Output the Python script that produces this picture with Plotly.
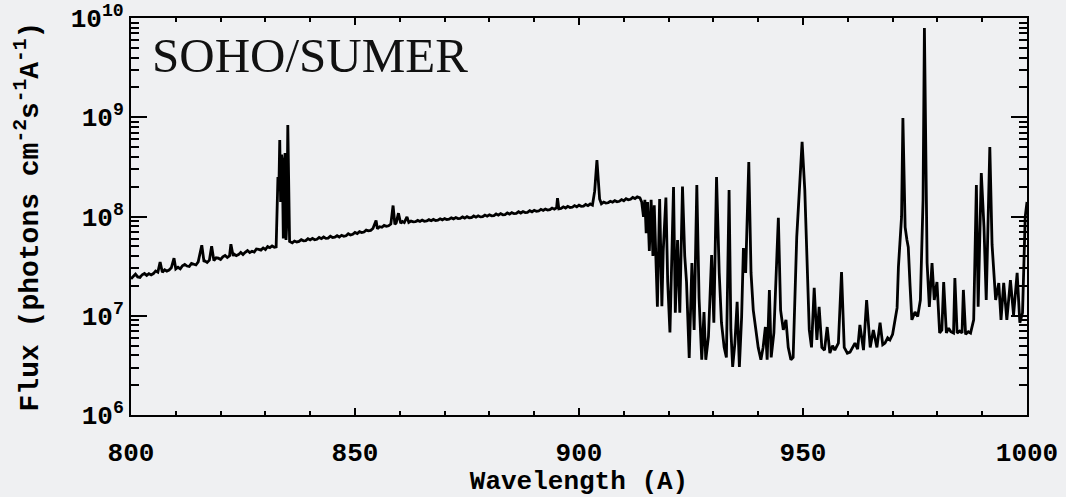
import plotly.graph_objects as go

# SUMER quiet-Sun spectrum, 800-1000 A
wavelength = [
    800, 800.5, 801, 801.5, 802, 802.5, 803, 803.5, 804, 804.5, 805, 805.5, 806, 806.5,
    807, 807.5, 808, 808.5, 809, 809.6, 810, 810.5, 811, 811.5, 812, 812.5, 813, 813.5,
    814, 814.5, 815, 815.8, 816.3, 816.5, 817, 817.5, 818, 818.5, 819, 819.5, 820, 820.5,
    821, 821.5, 822, 822.3, 822.8, 823, 823.5, 824, 824.5, 825, 825.5, 826, 826.5, 827,
    827.5, 828, 828.5, 829, 829.5, 830, 830.5, 831, 831.5, 832, 832.4,
    832.6, 832.8, 833.0, 833.2, 833.4, 833.6, 833.8, 834.0, 834.2, 834.4, 834.6, 834.8,
    835.0, 835.2, 835.4,
    836, 836.5, 837, 837.5, 838, 838.5, 839, 839.5, 840, 840.5, 841, 841.5, 842, 842.5,
    843, 843.5, 844, 844.5, 845, 845.5, 846, 846.5, 847, 847.5, 848, 848.5, 849, 849.5,
    850, 850.5, 851, 851.5, 852, 852.5, 853, 853.5, 854, 854.7, 855, 855.5, 856, 856.5,
    857, 857.5, 858, 858.5, 858.9, 859.2, 859.7, 860.2, 860.6, 861, 861.6, 862, 862.5,
    863, 863.5, 864, 864.5, 865, 865.5, 866, 866.5, 867, 867.5, 868, 868.5, 869, 869.5,
    870, 870.5, 871, 871.5, 872, 872.5, 873, 873.5, 874, 874.5, 875, 875.5, 876, 876.5,
    877, 877.5, 878, 878.5, 879, 879.5, 880, 880.5, 881, 881.5, 882, 882.5, 883, 883.5,
    884, 884.5, 885, 885.5, 886, 886.5, 887, 887.5, 888, 888.5, 889, 889.5, 890, 890.5,
    891, 891.5, 892, 892.5, 893, 893.5, 894, 894.5, 895, 895.2, 895.5, 896, 896.5, 897,
    897.5, 898, 898.5, 899, 899.5, 900, 900.5, 901, 901.5, 902, 902.5, 903, 903.5, 904.0,
    904.3, 904.6, 905, 905.5, 906, 906.5, 907, 907.5, 908, 908.5, 909, 909.5, 910, 910.5,
    911, 911.5, 912, 912.5, 913, 913.6,
    914.0, 914.4, 914.7, 915.0, 915.3, 915.7, 916.1, 916.5,
    916.8, 917.5, 918.0, 918.5, 918.8, 919.4, 919.8, 920.3, 921.1, 921.5, 922.0, 922.5,
    923.1, 923.6, 924.0, 924.6, 925.2, 925.7, 926.3, 926.8, 927.4, 927.9, 928.3, 928.9,
    929.6, 930.1, 930.7, 931.3, 931.8, 932.4, 932.9, 933.5, 933.9, 934.3, 934.8, 935.3,
    935.8, 936.3, 936.7, 937.2, 937.9, 938.4, 938.9, 939.5, 940.0, 940.6, 941.1, 941.6,
    942.0, 942.5, 942.9, 943.5, 944.0, 944.5, 945.0, 945.6, 946.2, 946.7, 947.3, 947.8,
    948.6, 949.2, 949.8, 950.4, 950.8, 951.4, 951.9, 952.5, 953.1, 953.6, 954.2, 954.8,
    955.4, 956.0, 956.6, 957.1, 957.9, 958.6, 959.2, 959.9, 960.5, 961.1, 961.6, 962.2,
    962.7, 963.5, 964.2, 965.0, 965.7, 966.5, 967.2, 967.8, 968.3, 968.9, 969.4, 970.0,
    970.5, 971.0, 971.3, 971.7, 972.0, 972.3, 972.6, 972.8, 973.2, 973.5, 973.9,
    974.3, 975.0, 975.6, 976.2, 976.8, 977.1, 977.4, 977.7, 978.2, 978.8, 979.3, 979.9, 980.5,
    981.0, 981.4, 982.0, 982.5, 983.0, 983.6, 983.9, 984.4, 985.0, 985.5, 985.8, 986.3, 986.9,
    987.4, 988.1, 988.7, 989.1, 989.8, 990.4, 990.9, 991.7, 992.2, 993.0, 993.7, 994.2,
    994.8, 995.5, 996.3, 997.0, 997.8, 998.4, 999.0, 999.6, 1000,
]

# flux in units of 1e6 photons cm^-2 s^-1 A^-1
flux_1e6 = [
    23.5, 25.0, 26.3, 24.6, 24.3, 25.9, 26.7, 25.5, 26.6, 25.8, 26.6, 28.3, 27.5, 34.7,
    27.4, 29.1, 28.2, 28.9, 30.4, 38.0, 29.6, 30.8, 29.7, 31.9, 32.9, 31.7, 31.4, 33.7,
    33.1, 32.5, 34.9, 51.3, 35.0, 35.8, 34.4, 36.3, 50.1, 36.0, 38.3, 38.0, 36.9, 39.3,
    40.5, 38.6, 40.2, 52.5, 40.1, 41.9, 40.4, 41.3, 43.5, 41.4, 43.6, 45.4, 43.3, 44.7,
    43.8, 47.1, 46.7, 45.9, 48.2, 46.5, 49.9, 48.5, 50.5, 49.1, 49.5,
    120, 250, 180, 590, 140, 420, 300, 60, 350, 436, 58, 90,
    836, 200, 56,
    54.2, 56.6, 55.4, 56.1, 58.4, 56.9, 57.2, 59.8, 58.1, 60.2, 58.3, 58.9, 61.5, 59.8,
    62.1, 60.2, 60.6, 63.2, 61.4, 61.9, 64.0, 62.1, 64.7, 63.1, 63.9, 67.0, 65.2, 66.1,
    69.0, 67.4, 70.4, 68.9, 69.8, 73.0, 71.6, 72.5, 75.8, 91.0, 75.3, 78.9, 77.8, 81.2,
    79.5, 80.6, 83.9, 129, 83.1, 86.4, 108, 85.4, 88.9, 86.8, 99.0, 87.1, 90.1,
    88.2, 88.6, 91.3, 89.0, 91.9, 89.6, 90.1, 92.9, 90.6, 93.4, 91.2, 91.8, 94.8, 92.5,
    95.2, 93.3, 93.8, 96.9, 94.6, 97.6, 95.3, 95.7, 99.0, 96.4, 99.6, 97.2, 97.6, 101.2,
    98.5, 101.7, 99.1, 99.7, 103.5, 100.8, 104.2, 101.6, 102.1, 106.0, 103.2, 107.0, 104.0, 104.6,
    108.7, 105.8, 109.4, 106.8, 107.5, 111.6, 108.4, 112.3, 109.6, 110.2, 114.4, 111.5, 115.6, 112.9,
    113.6, 118.1, 115.0, 119.1, 116.4, 117.0, 121.6, 118.5, 122.9, 153, 119.6, 120.8, 125.1, 121.8,
    126.5, 123.2, 123.9, 128.7, 125.3, 130.1, 126.6, 127.3, 132.4, 128.7, 133.6, 130.0, 180, 371,
    223, 150, 134.3, 139.8, 136.4, 137.5, 142.5, 139.2, 144.3, 141.0, 142.3, 148.0, 144.2, 150.9,
    147.2, 149.0, 155.6, 151.8, 157.7, 154,
    140, 99, 147, 68, 140, 45, 147, 40,
    130, 12.3, 150, 12.5, 45, 155, 22, 6.8, 198, 10.7, 58, 10.7,
    200, 40, 22, 3.75, 34, 7.2, 208, 15, 3.6, 10.9, 3.6, 6.2,
    41, 8.5, 250, 27, 8.5, 4.8, 3.8, 185, 7.2, 3.05, 5.3, 13.8,
    3.05, 9.7, 48, 27, 354, 27, 11.4, 7.2, 4.8, 3.6, 4.8, 7.7,
    3.6, 18.2, 3.8, 6.7, 24, 97, 11.4, 7.2, 9.1, 4.8, 3.6, 3.8,
    62, 185, 564, 185, 49, 7.2, 4.8, 19.1, 5.7, 12.3, 4.8, 4.5,
    7.7, 4.2, 5.0, 4.5, 5.3, 27.6, 4.8, 4.2, 4.3, 4.9, 5.3, 4.6,
    8.1, 4.5, 14.4, 4.8, 7.2, 4.8, 8.5, 5.1, 5.3, 6.0, 5.7, 6.5,
    9.1, 12.0, 31, 60, 99, 982, 120, 78, 58, 49, 20,
    9.1, 10.9, 9.8, 14.4, 147, 7925, 300, 34, 12.3, 34, 14.4, 21.9, 6.7,
    7.2, 21.9, 6.7, 7.5, 6.9, 6.7, 24, 6.7, 7.0, 6.7, 18.2, 6.5, 6.9,
    6.7, 9.1, 208, 12.3, 274, 78, 14.4, 501, 52, 14.4, 21.4, 9.1,
    21.4, 9.1, 22.9, 10.2, 27, 8.5, 10.7, 99, 140,
]

flux = [v * 1e6 for v in flux_1e6]

x_ticks = [800, 850, 900, 950, 1000]
y_ticks = [1e6, 1e7, 1e8, 1e9, 1e10]
y_tick_text = ["10<sup>6</sup>", "10<sup>7</sup>", "10<sup>8</sup>", "10<sup>9</sup>", "10<sup>10</sup>"]

BG = "#eff0f2"
LABEL_FONT = dict(family="Liberation Mono", size=26, color="black", weight="bold")
YTITLE_FONT = dict(family="Liberation Mono", size=28, color="black", weight="bold")

fig = go.Figure()
fig.add_trace(go.Scatter(
    x=wavelength, y=flux, mode="lines",
    line=dict(color="black", width=2.8),
    showlegend=False, hoverinfo="skip",
))

fig.update_layout(
    width=1066, height=497,
    margin=dict(l=131, r=39, t=18, b=82),
    paper_bgcolor=BG, plot_bgcolor=BG,
    font=LABEL_FONT,
)

fig.update_xaxes(
    range=[800, 1000],
    tickvals=x_ticks,
    ticks="inside", ticklen=7, tickwidth=2, tickcolor="black",
    minor=dict(ticks="inside", ticklen=4, tickwidth=2, tickcolor="black", dtick=10, showgrid=False),
    showline=True, linecolor="black", linewidth=2, mirror="allticks",
    showgrid=False, zeroline=False, automargin=False,
    tickfont=LABEL_FONT,
    ticklabelstandoff=13,
    title=dict(text="Wavelength (A)", font=LABEL_FONT, standoff=4),
)

fig.update_yaxes(
    type="log", range=[6, 10],
    tickvals=y_ticks, ticktext=y_tick_text,
    ticks="inside", ticklen=16, tickwidth=2, tickcolor="black",
    minor=dict(ticks="inside", ticklen=8, tickwidth=2, tickcolor="black", dtick="D1", showgrid=False),
    showline=True, linecolor="black", linewidth=2, mirror="allticks",
    showgrid=False, zeroline=False, automargin=False,
    tickfont=LABEL_FONT,
    title=dict(text="Flux (photons cm<sup>-2</sup>s<sup>-1</sup>A<sup>-1</sup>)", font=YTITLE_FONT, standoff=24),
)

fig.add_annotation(
    text="SOHO/SUMER", xref="paper", yref="paper",
    x=0.021, y=0.98, xanchor="left", yanchor="top", showarrow=False,
    font=dict(family="Liberation Serif", size=49, color="#111111", weight="normal"),
)

fig.write_html("out.html")
